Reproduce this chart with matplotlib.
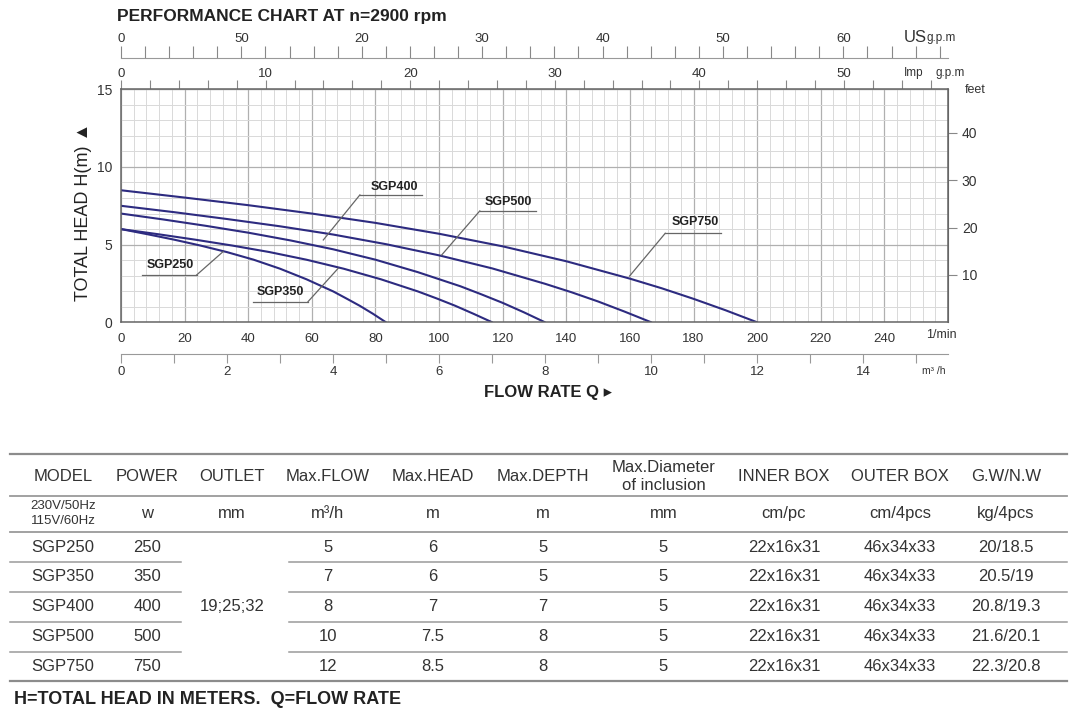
import numpy as np
import matplotlib
matplotlib.use('Agg')
import matplotlib.pyplot as plt
from matplotlib.lines import Line2D

plt.rcParams['font.family'] = ['Liberation Sans', 'DejaVu Sans']

# ---- performance curves: flow (l/min) / head (m) ----
models = ['SGP250', 'SGP350', 'SGP400', 'SGP500', 'SGP750']
q_sgp250 = [0, 8.3, 16.7, 25, 33.3, 41.7, 50, 58.3, 66.7, 70.8, 75, 79.2, 83.3]
h_sgp250 = [6.0, 5.67, 5.32, 4.94, 4.52, 4.03, 3.45, 2.77, 1.99, 1.54, 1.07, 0.55, 0]
q_sgp350 = [0, 11.7, 23.3, 35, 46.7, 58.3, 70, 81.7, 93.3, 99.2, 105, 110.8, 116.7]
h_sgp350 = [6.0, 5.67, 5.32, 4.94, 4.52, 4.03, 3.45, 2.77, 1.99, 1.54, 1.07, 0.55, 0]
q_sgp400 = [0, 13.3, 26.7, 40, 53.3, 66.7, 80, 93.3, 106.7, 113.3, 120, 126.7, 133.3]
h_sgp400 = [7.0, 6.62, 6.21, 5.77, 5.27, 4.70, 4.03, 3.23, 2.32, 1.80, 1.25, 0.64, 0]
q_sgp500 = [0, 16.7, 33.3, 50, 66.7, 83.3, 100, 116.7, 133.3, 141.7, 150, 158.3, 166.7]
h_sgp500 = [7.5, 7.09, 6.65, 6.18, 5.65, 5.03, 4.31, 3.47, 2.48, 1.93, 1.34, 0.69, 0]
q_sgp750 = [0, 20, 40, 60, 80, 100, 120, 140, 160, 170, 180, 190, 200]
h_sgp750 = [8.5, 8.03, 7.54, 7.00, 6.40, 5.70, 4.89, 3.93, 2.81, 2.19, 1.51, 0.78, 0]
curves = [(q_sgp250, h_sgp250), (q_sgp350, h_sgp350), (q_sgp400, h_sgp400),
          (q_sgp500, h_sgp500), (q_sgp750, h_sgp750)]

# axis tick labels
lmin_ticks = list(range(0, 241, 20))
m3h_ticks = [0, 2, 4, 6, 8, 10, 12, 14]
us_ticks = [0, 10, 20, 30, 40, 50, 60]
us_labels = ['0', '50', '20', '30', '40', '50', '60']
imp_ticks = [0, 10, 20, 30, 40, 50]
feet_ticks = [10, 20, 30, 40]
head_ticks = [0, 5, 10, 15]

# ---- spec table ----
headers = ['MODEL', 'POWER', 'OUTLET', 'Max.FLOW', 'Max.HEAD', 'Max.DEPTH',
           'Max.Diameter\nof inclusion', 'INNER BOX', 'OUTER BOX', 'G.W/N.W']
units = ['230V/50Hz\n115V/60Hz', 'w', 'mm', 'm³/h', 'm', 'm', 'mm', 'cm/pc', 'cm/4pcs', 'kg/4pcs']
power = ['250', '350', '400', '500', '750']
outlet = '19;25;32'
max_flow = ['5', '7', '8', '10', '12']
max_head = ['6', '6', '7', '7.5', '8.5']
max_depth = ['5', '5', '7', '8', '8']
max_diam = ['5', '5', '5', '5', '5']
inner_box = ['22x16x31', '22x16x31', '22x16x31', '22x16x31', '22x16x31']
outer_box = ['46x34x33', '46x34x33', '46x34x33', '46x34x33', '46x34x33']
gw_nw = ['20/18.5', '20.5/19', '20.8/19.3', '21.6/20.1', '22.3/20.8']

W, H = 1078, 722
CURVE = '#2d2b80'
GREY = '#666666'


def fx(px):
    return px / W


def fy(py):
    return 1 - py / H


fig = plt.figure(figsize=(W / 100, H / 100), dpi=100)
ax = fig.add_axes([fx(121), fy(322.3), (948 - 121) / W, (322.3 - 89.3) / H])
ax.set_xlim(0, 260)
ax.set_ylim(0, 15)

# grid
ax.set_xticks(lmin_ticks)
ax.set_xticks(np.arange(0, 261, 4), minor=True)
ax.set_yticks(head_ticks)
ax.set_yticks(np.arange(0, 16, 1), minor=True)
ax.grid(which='minor', color='#d9d9d9', lw=0.7)
ax.grid(which='major', color='#b0b0b0', lw=0.9)
ax.set_axisbelow(True)
ax.tick_params(which='both', length=0)
ax.tick_params(axis='x', pad=8, labelsize=9.5, labelcolor='#333')
ax.tick_params(axis='y', pad=6, labelsize=10, labelcolor='#333')
for s in ax.spines.values():
    s.set_color(GREY)
    s.set_linewidth(1.1)

for q, h in curves:
    ax.plot(q, h, color=CURVE, lw=1.5, solid_capstyle='round')

# model labels: text pos, underline x-range / y, leader end (data units)
label_layout = {
    'SGP250': ((15.4, 3.66), (6.5, 23.8, 3.05), (23.8, 32.1, 4.55)),
    'SGP350': ((50.0, 1.97), (41.6, 58.8, 1.33), (58.8, 68.3, 3.48)),
    'SGP400': ((86.1, 8.73), (75.1, 94.5, 8.20), (75.1, 63.6, 5.30)),
    'SGP500': ((121.7, 7.77), (112.8, 130.6, 7.17), (112.8, 100.8, 4.33)),
    'SGP750': ((180.7, 6.47), (171.1, 188.5, 5.73), (171.1, 159.9, 2.98)),
}
for name in models:
    (tx, ty), (u0, u1, uy), (l0, l1, ly) = label_layout[name]
    ax.text(tx, ty, name, ha='center', va='center', fontsize=9, weight='bold', color='#222')
    ax.plot([u0, u1], [uy, uy], color=GREY, lw=0.9)
    ax.plot([l0, l1], [uy, ly], color=GREY, lw=0.9)

# Imp g.p.m axis on top of the frame
imp = ax.secondary_xaxis('top', functions=(lambda x: x / 4.546, lambda g: g * 4.546))
imp.set_xticks(imp_ticks)
imp.set_xticks(np.arange(0, 57, 2), minor=True)
imp.tick_params(which='both', direction='out', length=6.5, width=0.8, color='#888',
                pad=0.5, labelsize=9.5, labelcolor='#333')
for s in imp.spines.values():
    s.set_color(GREY)

# US g.p.m axis above
us = ax.secondary_xaxis(1.133, functions=(lambda x: x / 3.785, lambda g: g * 3.785))
us.set_xticks(us_ticks, us_labels)
us.set_xticks(np.arange(0, 69, 2), minor=True)
us.tick_params(which='both', direction='out', length=9, width=0.8, color='#888',
               pad=0.5, labelsize=9.5, labelcolor='#333')
for s in us.spines.values():
    s.set_color('#999')

# m3/h axis below
m3 = ax.secondary_xaxis(-0.1361, functions=(lambda x: x / 16.667, lambda m: m * 16.667))
m3.set_xticks(m3h_ticks)
m3.set_xticks(np.arange(0, 16, 1), minor=True)
m3.tick_params(which='both', direction='out', length=6.5, width=0.8, color='#999',
               pad=2, labelsize=9.5, labelcolor='#333')
for s in m3.spines.values():
    s.set_color('#999')

# feet on the right
ft = ax.secondary_yaxis('right', functions=(lambda m: m * 3.2808, lambda f: f / 3.2808))
ft.set_yticks(feet_ticks)
ft.tick_params(direction='out', length=6.5, width=0.8, color='#888', pad=3.5,
               labelsize=10, labelcolor='#333')
for s in ft.spines.values():
    s.set_color(GREY)

# unit and axis captions
fig.text(fx(117), fy(17), 'PERFORMANCE CHART AT n=2900 rpm', fontsize=12.5, weight='bold',
         color='#222', ha='left', va='center')
fig.text(fx(904), fy(37), 'US', fontsize=12, color='#333', ha='left', va='center')
fig.text(fx(927), fy(38), 'g.p.m', fontsize=8.5, color='#333', ha='left', va='center')
fig.text(fx(904), fy(73), 'Imp', fontsize=8.5, color='#333', ha='left', va='center')
fig.text(fx(936), fy(73), 'g.p.m', fontsize=8.5, color='#333', ha='left', va='center')
fig.text(fx(965), fy(90), 'feet', fontsize=9, color='#333', ha='left', va='center')
fig.text(fx(926), fy(335), '1/min', fontsize=9, color='#333', ha='left', va='center')
fig.text(fx(922), fy(371), 'm³ /h', fontsize=7.5, color='#333', ha='left', va='center')
fig.text(fx(548), fy(393), 'FLOW RATE Q ▸', fontsize=12, weight='bold', color='#222',
         ha='center', va='center')
fig.text(fx(83), fy(212), 'TOTAL HEAD H(m) ▲', fontsize=13, color='#222', rotation=90,
         ha='center', va='center')

# ---- table ----
col_x = [63, 147, 232, 328, 433, 543, 663.5, 784, 900, 1006]
row_y = [547.3, 576.7, 606.7, 636.7, 666.7]


def hline(x0, x1, y, lw=1.1, color='#9a9a9a'):
    fig.add_artist(Line2D([fx(x0), fx(x1)], [fy(y), fy(y)], color=color, lw=lw))


def cell(x, y, s, size=12, gap=18, **kw):
    lines = s.split('\n')
    y0 = y - gap * (len(lines) - 1) / 2
    for i, t in enumerate(lines):
        fig.text(fx(x), fy(y0 + i * gap), t, fontsize=size, color='#333',
                 ha='center', va='center', **kw)


hline(10, 1067, 454.3, lw=1.6, color='#8c8c8c')
hline(10, 1067, 496, lw=1.3)
hline(10, 1067, 531.7, lw=1.3)
for yy in [561.7, 591.7, 621.7, 651.7]:
    hline(10, 181, yy)
    hline(289, 1067, yy)
hline(10, 1067, 680.5, lw=1.6, color='#8c8c8c')

for x, s in zip(col_x, headers):
    cell(x, 476.7, s)
cell(col_x[0], 513.5, units[0], size=9.5, gap=15)
for x, s in zip(col_x[1:], units[1:]):
    cell(x, 513.5, s)

cols = [models, power, None, max_flow, max_head, max_depth, max_diam, inner_box, outer_box, gw_nw]
for x, vals in zip(col_x, cols):
    if vals is None:
        continue
    for y, v in zip(row_y, vals):
        cell(x, y, v)
cell(col_x[2], row_y[2], outlet)

fig.text(fx(14), fy(700), 'H=TOTAL HEAD IN METERS.  Q=FLOW RATE', fontsize=13,
         weight='bold', color='#222', ha='left', va='center')

fig.savefig('out.png', dpi=100)
